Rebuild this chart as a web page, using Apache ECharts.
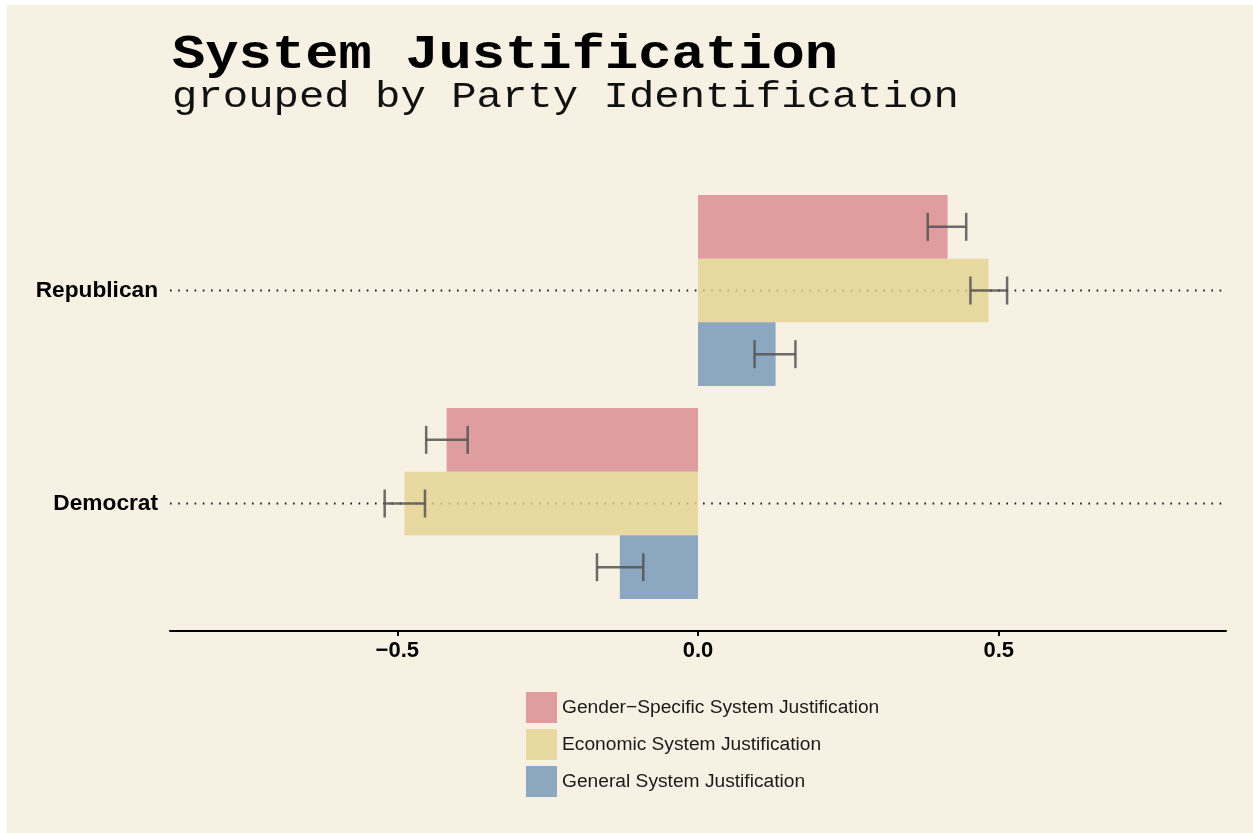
<!DOCTYPE html>
<html>
<head>
<meta charset="utf-8">
<script src="https://cdn.jsdelivr.net/npm/echarts@6/dist/echarts.min.js"></script>
<style>
html,body{margin:0;padding:0;background:#ffffff;width:1253px;height:833px;overflow:hidden;}
#chart{position:absolute;left:7px;top:5px;width:1246px;height:828px;background:#F7F1E4;}
</style>
</head>
<body>
<div id="chart"></div>
<script>
const categories = ['Democrat', 'Republican'];
const seriesNames = ['Gender\u2212Specific System Justification', 'Economic System Justification', 'General System Justification'];
const genderVals = [-0.418, 0.415];
const economicVals = [-0.488, 0.483];
const generalVals = [-0.130, 0.129];
const genderLo = [-0.452, 0.382];
const genderHi = [-0.383, 0.446];
const economicLo = [-0.521, 0.453];
const economicHi = [-0.454, 0.514];
const generalLo = [-0.168, 0.094];
const generalHi = [-0.091, 0.162];
const xTicks = [-0.5, 0, 0.5];
const titleText = 'System Justification';
const subtitleText = 'grouped by Party Identification';

const colors = ['#D8888F', '#E2D38F', '#7196B7'];
const BAR_GAP = 0.103;
const vals = [genderVals, economicVals, generalVals];
const los = [genderLo, economicLo, generalLo];
const his = [genderHi, economicHi, generalHi];

const chart = echarts.init(document.getElementById('chart'));

function errRender(k) {
  return function (params, api) {
    const lo = api.value(0), hi = api.value(1), cat = api.value(2);
    const band = api.size([0, 1])[1];
    const groupW = band * (1 - BAR_GAP);
    const barW = groupW / 3;
    const yc = api.coord([0, cat])[1];
    const y = yc - groupW / 2 + barW * (k + 0.5);
    const x1 = api.coord([lo, cat])[0];
    const x2 = api.coord([hi, cat])[0];
    const h = 14;
    const st = { stroke: '#555555', lineWidth: 2.5, opacity: 0.85 };
    return {
      type: 'group',
      children: [
        { type: 'line', shape: { x1: x1, y1: y, x2: x2, y2: y }, style: st },
        { type: 'line', shape: { x1: x1, y1: y - h, x2: x1, y2: y + h }, style: st },
        { type: 'line', shape: { x1: x2, y1: y - h, x2: x2, y2: y + h }, style: st }
      ]
    };
  };
}

const series = [];
series.push({
  type: 'custom',
  name: 'guides',
  z: 1,
  silent: true,
  data: categories.map((c, i) => [i]),
  encode: { y: 0 },
  renderItem: function (params, api) {
    const cs = params.coordSys;
    const y = api.coord([0, api.value(0)])[1];
    return {
      type: 'line',
      shape: { x1: cs.x, y1: y, x2: cs.x + cs.width, y2: y },
      style: { stroke: '#1a1a1a', lineWidth: 2, lineDash: [1.6, 6.6] }
    };
  }
});
for (let k = 0; k < 3; k++) {
  series.push({
    type: 'bar',
    name: seriesNames[k],
    data: vals[k],
    z: 2,
    barGap: '0%',
    barCategoryGap: (BAR_GAP * 100) + '%',
    itemStyle: { color: colors[k], opacity: 0.8 },
    emphasis: { disabled: true }
  });
}
for (let k = 0; k < 3; k++) {
  series.push({
    type: 'custom',
    name: 'err' + k,
    z: 3,
    silent: true,
    data: categories.map((c, i) => [los[k][i], his[k][i], i]),
    encode: { x: [0, 1], y: 2 },
    renderItem: errRender(k)
  });
}

chart.setOption({
  animation: false,
  backgroundColor: '#F7F1E4',
  graphic: [
    { type: 'text', x: 165, y: 51, scaleY: 0.87, silent: true,
      style: { text: titleText, fontFamily: 'Liberation Mono', fontWeight: 'bold', fontSize: 55.5,
               fill: '#000', align: 'left', verticalAlign: 'middle' } },
    { type: 'text', x: 165, y: 92, scaleY: 0.87, silent: true,
      style: { text: subtitleText, fontFamily: 'Liberation Mono', fontWeight: 'normal', fontSize: 42.3,
               fill: '#111', align: 'left', verticalAlign: 'middle' } }
  ],
  legend: {
    data: seriesNames,
    orient: 'vertical',
    left: 514,
    top: 682,
    itemWidth: 31,
    itemHeight: 31,
    itemGap: 6,
    icon: 'rect',
    selectedMode: false,
    itemStyle: { opacity: 0.8 },
    textStyle: { fontFamily: 'Liberation Sans', fontSize: 19.2, color: '#1a1a1a' }
  },
  grid: { left: 163, right: 27, top: 179, bottom: 223, containLabel: false },
  xAxis: {
    type: 'value',
    min: -0.878,
    max: 0.878,
    offset: 21,
    splitLine: { show: false },
    axisLine: { show: true, lineStyle: { color: '#000', width: 2 } },
    axisTick: { show: true, customValues: xTicks, length: 5, lineStyle: { color: '#000', width: 2 } },
    axisLabel: {
      customValues: xTicks,
      margin: 9,
      fontFamily: 'Liberation Sans', fontWeight: 'bold', fontSize: 22, color: '#000',
      formatter: function (v) { return (v < 0 ? '\u2212' : '') + Math.abs(v).toFixed(1); }
    }
  },
  yAxis: {
    type: 'category',
    data: categories,
    axisLine: { show: false },
    axisTick: { show: false },
    splitLine: { show: false },
    axisLabel: { margin: 12, fontFamily: 'Liberation Sans', fontWeight: 'bold', fontSize: 22.7, color: '#000' }
  },
  series: series
});
</script>
</body>
</html>
